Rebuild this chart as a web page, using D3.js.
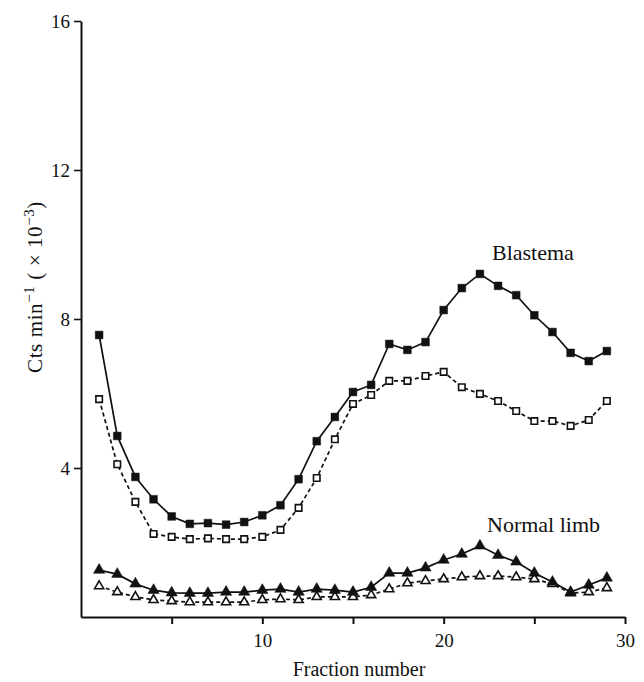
<!DOCTYPE html>
<html><head><meta charset="utf-8">
<script src="https://cdn.jsdelivr.net/npm/d3@7"></script>
<style>body{margin:0;background:#fff}svg{display:block}text{font-family:"Liberation Serif","DejaVu Serif",serif;fill:#111}</style>
</head><body>
<script>
const fractions = d3.range(1, 30);
const blastemaFilled = [7.57,4.86,3.76,3.16,2.70,2.50,2.52,2.48,2.55,2.73,3.00,3.70,4.72,5.37,6.04,6.23,7.33,7.17,7.38,8.24,8.83,9.21,8.89,8.64,8.10,7.65,7.09,6.87,7.14];
const blastemaOpen = [5.85,4.10,3.09,2.23,2.15,2.09,2.11,2.09,2.09,2.15,2.34,2.93,3.73,4.77,5.72,5.96,6.34,6.34,6.47,6.58,6.17,5.99,5.80,5.53,5.26,5.26,5.13,5.29,5.80];
const normalFilled = [1.26,1.15,0.89,0.72,0.65,0.64,0.64,0.67,0.67,0.72,0.75,0.67,0.75,0.72,0.67,0.80,1.18,1.18,1.32,1.53,1.69,1.91,1.66,1.48,1.18,0.94,0.67,0.86,1.05];
const normalOpen = [0.83,0.67,0.54,0.46,0.43,0.40,0.40,0.40,0.40,0.46,0.48,0.46,0.54,0.54,0.54,0.59,0.75,0.91,0.97,1.02,1.07,1.10,1.10,1.07,1.02,0.89,0.64,0.67,0.78];
const yTicks = [4, 8, 12, 16];
const xTicks = [5, 10, 15, 20, 25, 30];
const xTickLabels = [10, 20, 30];

const W = 644, H = 682;
const FONT = '"Liberation Serif","DejaVu Serif",serif';
const svg = d3.select("body").append("svg").attr("width", W).attr("height", H);
const x = d3.scaleLinear().domain([0, 30]).range([81, 625]);
const y = d3.scaleLinear().domain([0, 16]).range([617, 21]);

// axes
const xAxis = svg.append("g").attr("transform", `translate(0,${y(0)})`)
  .call(d3.axisBottom(x).tickValues(xTicks).tickSize(7).tickSizeOuter(0)
    .tickFormat(d => xTickLabels.includes(d) ? d : ""));
xAxis.attr("font-family", FONT);
xAxis.select(".domain").attr("stroke", "#111").attr("stroke-width", 2);
xAxis.selectAll(".tick line").attr("stroke", "#111").attr("stroke-width", 2);
xAxis.selectAll(".tick text").attr("font-size", 19).attr("y", 17).attr("dy", "0.71em").attr("fill", "#111");

const yAxis = svg.append("g").attr("transform", `translate(${x(0)},0)`)
  .call(d3.axisLeft(y).tickValues(yTicks).tickSize(7).tickSizeOuter(0));
yAxis.attr("font-family", FONT);
yAxis.select(".domain").attr("stroke", "#111").attr("stroke-width", 2);
yAxis.selectAll(".tick line").attr("stroke", "#111").attr("stroke-width", 1.6);
yAxis.selectAll(".tick text").attr("font-size", 19).attr("x", -11).attr("fill", "#111");

function drawSeries(vals, dashed, marker, filled) {
  const data = fractions.map((f, i) => [f, vals[i]]);
  svg.append("path").datum(data)
    .attr("fill", "none").attr("stroke", "#111").attr("stroke-width", 1.7)
    .attr("stroke-dasharray", dashed ? "4,3" : null)
    .attr("d", d3.line().x(d => x(d[0])).y(d => y(d[1])));
  const sym = d3.symbol().type(marker === "square" ? d3.symbolSquare : d3.symbolTriangle)
    .size(marker === "square" ? (filled ? 60 : 42) : (filled ? 55 : 36));
  svg.append("g").selectAll("path").data(data).join("path")
    .attr("transform", d => `translate(${x(d[0])},${y(d[1])})`)
    .attr("d", sym)
    .attr("fill", filled ? "#111" : "#fff")
    .attr("stroke", "#111").attr("stroke-width", filled ? 0.5 : 1.6);
}
drawSeries(normalOpen, true, "triangle", false);
drawSeries(normalFilled, false, "triangle", true);
drawSeries(blastemaOpen, true, "square", false);
drawSeries(blastemaFilled, false, "square", true);

svg.append("text").attr("x", 492).attr("y", 260).attr("font-size", 22).text("Blastema");
svg.append("text").attr("x", 487).attr("y", 532).attr("font-size", 22).text("Normal limb");

svg.append("text").attr("x", 359).attr("y", 676).attr("text-anchor", "middle").attr("font-size", 20).text("Fraction number");

const yl = svg.append("text").attr("transform", "translate(42,287) rotate(-90)").attr("text-anchor", "middle").attr("font-size", 21).attr("letter-spacing", 0.6);
yl.append("tspan").text("Cts min");
yl.append("tspan").attr("dy", -8).attr("font-size", 15).text("−1");
yl.append("tspan").attr("dy", 8).text(" ( × 10");
yl.append("tspan").attr("dy", -8).attr("font-size", 15).text("−3");
yl.append("tspan").attr("dy", 8).text(")");
</script>
</body></html>
